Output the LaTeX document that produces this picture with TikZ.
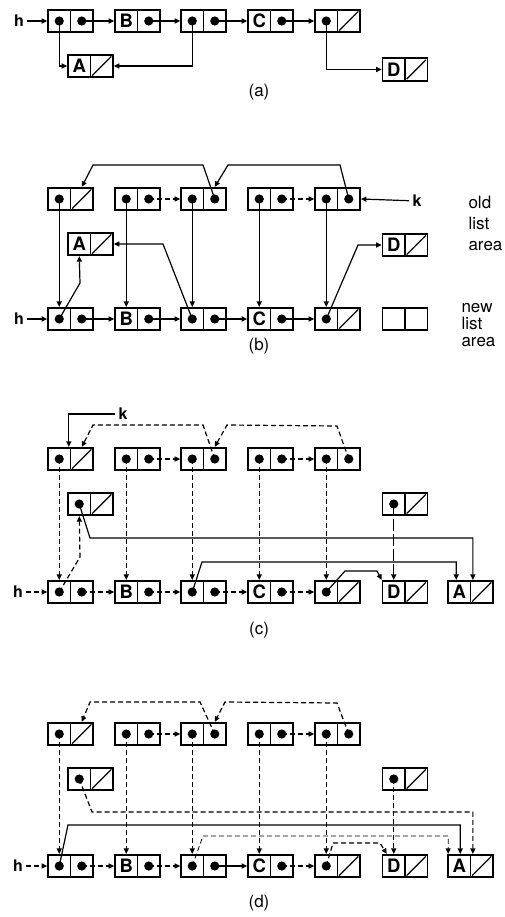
\documentclass[tikz,border=0pt]{standalone}
\usepackage{fontspec}
\setmainfont{TeX Gyre Heros}
\usetikzlibrary{arrows.meta}
\newcommand\mknode[5]{%
  \node[cell] (#1l) at ({#2-11.25},#3) {#4};
  \node[cell] (#1r) at ({#2+11.25},#3) {#5};}
\newcommand\mydot[1]{\fill (#1.center) circle[radius=4.6];}
\newcommand\myslash[1]{\draw[line width=1.3pt] ([shift={(2.5,-2.5)}]#1.south west) -- ([shift={(-2.5,2.5)}]#1.north east);}
\begin{document}
\begin{tikzpicture}[x=1pt,y=-1pt,
  cell/.style={draw,line width=1.7pt,minimum width=22.5pt,minimum height=22.5pt,inner sep=0pt,font=\fontsize{18.5}{18.5}\selectfont\bfseries},
  link/.style={line width=1.2pt},
  arr/.style={link,-{Triangle[length=5.5pt,width=5pt]}},
  dsh/.style={dash pattern=on 5pt off 3pt},
  lbl/.style={font=\fontsize{17}{17}\selectfont},
  ptr/.style={font=\fontsize{16}{16}\selectfont\bfseries},
]
\useasboundingbox (0,0) rectangle (504,917);

% ---------------- (a)
\mknode{a1}{70.5}{21}{}{}
\mknode{a2}{137.5}{21}{B}{}
\mknode{a3}{203.5}{21}{}{}
\mknode{a4}{270.5}{21}{C}{}
\mknode{a5}{337.5}{21}{}{}
\mknode{aA}{90.5}{66}{A}{}
\mknode{aD}{405}{69.5}{D}{}
\node[ptr] (ah) at (19,21) {h};
\mydot{a1l}\mydot{a1r}\mydot{a2r}\mydot{a3l}\mydot{a3r}\mydot{a4r}\mydot{a5l}
\myslash{a5r}\myslash{aAr}\myslash{aDr}
\draw[arr] (ah) -- (a1l.west);
\draw[arr] (a1r.center) -- (a2l.west);
\draw[arr] (a2r.center) -- (a3l.west);
\draw[arr] (a3r.center) -- (a4l.west);
\draw[arr] (a4r.center) -- (a5l.west);
\draw[arr] (a1l.center) |- (aAl.west);
\draw[arr] (a3l.center) |- (aAr.east);
\draw[arr] (a5l.center) |- (aDl.west);
\node[lbl] (la) at (259,92) {(a)};

% ---------------- (b)
\mknode{bo1}{70.5}{199}{}{}
\mknode{bo2}{137.5}{199}{}{}
\mknode{bo3}{203.5}{199}{}{}
\mknode{bo4}{270.5}{199}{}{}
\mknode{bo5}{337.5}{199}{}{}
\mknode{bA}{90.5}{244}{A}{}
\mknode{bD}{405}{245}{D}{}
\mknode{bn1}{70.5}{319}{}{}
\mknode{bn2}{137.5}{319}{B}{}
\mknode{bn3}{203.5}{319}{}{}
\mknode{bn4}{270.5}{319}{C}{}
\mknode{bn5}{337.5}{319}{}{}
\mknode{bE}{405}{319}{}{}
\mydot{bo1l}\mydot{bo2l}\mydot{bo2r}\mydot{bo3l}\mydot{bo3r}\mydot{bo4l}\mydot{bo4r}\mydot{bo5l}\mydot{bo5r}
\mydot{bn1l}\mydot{bn1r}\mydot{bn2r}\mydot{bn3l}\mydot{bn3r}\mydot{bn4r}\mydot{bn5l}
\myslash{bo1r}\myslash{bAr}\myslash{bDr}\myslash{bn5r}
\node[ptr] (bk) at (417,201) {k};
\node[ptr] (bh) at (19,319) {h};
\node[lbl,anchor=base west] (t1) at (465,208) {old};
\node[lbl,anchor=base west] (t2) at (465,229.5) {list};
\node[lbl,anchor=base west] (t3) at (465,251) {area};
\node[lbl,anchor=base west] (t4) at (458,312) {new};
\node[lbl,anchor=base west] (t5) at (458,329) {list};
\node[lbl,anchor=base west] (t6) at (458,346) {area};
\draw[arr] (bh) -- (bn1l.west);
\draw[arr] (bn1r.center) -- (bn2l.west);
\draw[arr] (bn2r.center) -- (bn3l.west);
\draw[arr] (bn3r.center) -- (bn4l.west);
\draw[arr] (bn4r.center) -- (bn5l.west);
\draw[arr,dsh] (bo2r.center) -- (bo3l.west);
\draw[arr,dsh] (bo4r.center) -- (bo5l.west);
\draw[arr] (bk) -- (bo5r.east);
\draw[arr] (bo3r.center) -- (203,165) -- (93,165) -- (bo1r.north);
\draw[arr] (bo5r.center) -- (340,165) -- (228,165) -- (bo3r.north);
\draw[arr] (bo1l.center) -- (bn1l.north);
\draw[arr] (bo2l.center) -- (bn2l.north);
\draw[arr] (bo3l.center) -- (bn3l.north);
\draw[arr] (bo4l.center) -- (bn4l.north);
\draw[arr] (bo5l.center) -- (bn5l.north);
\draw[arr] (bn1l.center) -- (80,283) -- (bAl.south);
\draw[arr] (bn3l.center) -- (163,244) -- (bAr.east);
\draw[arr] (bn5l.center) -- (358,245) -- (bDl.west);
\node[lbl] (lb) at (259,346) {(b)};

% ---------------- (c)
\mknode{co1}{70.5}{459}{}{}
\mknode{co2}{137.5}{459}{}{}
\mknode{co3}{203.5}{459}{}{}
\mknode{co4}{270.5}{459}{}{}
\mknode{co5}{337.5}{459}{}{}
\mknode{cA}{90.5}{504}{}{}
\mknode{cD}{405}{504}{}{}
\mknode{cn1}{70.5}{592}{}{}
\mknode{cn2}{137.5}{592}{B}{}
\mknode{cn3}{203.5}{592}{}{}
\mknode{cn4}{270.5}{592}{C}{}
\mknode{cn5}{337.5}{592}{}{}
\mknode{cND}{405}{592}{D}{}
\mknode{cNA}{470.5}{592}{A}{}
\mydot{co1l}\mydot{co2l}\mydot{co2r}\mydot{co3l}\mydot{co3r}\mydot{co4l}\mydot{co4r}\mydot{co5l}\mydot{co5r}
\mydot{cAl}\mydot{cDl}
\mydot{cn1l}\mydot{cn1r}\mydot{cn2r}\mydot{cn3l}\mydot{cn3r}\mydot{cn4r}\mydot{cn5l}
\myslash{co1r}\myslash{cAr}\myslash{cDr}\myslash{cn5r}\myslash{cNDr}\myslash{cNAr}
\node[ptr] (ck) at (123,414) {k};
\node[ptr] (ch) at (18,592) {h};
\draw[arr] (ck) -| ([xshift=-2.5]co1l.north east);
\draw[arr,dsh] (co3r.center) -- (203,425) -- (93,425) -- (co1r.north);
\draw[arr,dsh] (co5r.center) -- (337,426) -- (227,425) -- (co3r.north);
\draw[arr,dsh] (co2r.center) -- (co3l.west);
\draw[arr,dsh] (co4r.center) -- (co5l.west);
\draw[arr,dsh] (co1l.center) -- (cn1l.north);
\draw[arr,dsh] (co2l.center) -- (cn2l.north);
\draw[arr,dsh] (co3l.center) -- (cn3l.north);
\draw[arr,dsh] (co4l.center) -- (cn4l.north);
\draw[arr,dsh] (co5l.center) -- (cn5l.north);
\draw[arr,dsh] (ch) -- (cn1l.west);
\draw[arr,dsh] (cn1r.center) -- (cn2l.west);
\draw[arr,dsh] (cn2r.center) -- (cn3l.west);
\draw[arr,dsh] (cn3r.center) -- (cn4l.west);
\draw[arr,dsh] (cn4r.center) -- (cn5l.west);
\draw[arr,dsh] (cn1l.center) -- (80,557) -- (cAl.south);
\draw[arr] (cAl.center) -- (90,538) -| ([xshift=1.5]cNAl.north east);
\draw[arr] (cn3l.center) -- (202,562) -| ([xshift=-3]cNAl.north);
\draw[arr,dash pattern=on 12pt off 3pt] (cDl.center) -- (cNDl.north);
\draw[arr] (cn5l.center) -- (345,571) -- (377,571) -- (cNDl.north west);
\node[lbl] (lc) at (259,630) {(c)};

% ---------------- (d)
\mknode{do1}{70.5}{734}{}{}
\mknode{do2}{137.5}{734}{}{}
\mknode{do3}{203.5}{734}{}{}
\mknode{do4}{270.5}{734}{}{}
\mknode{do5}{337.5}{734}{}{}
\mknode{dA}{90.5}{779}{}{}
\mknode{dD}{405}{779}{}{}
\mknode{dn1}{70.5}{866}{}{}
\mknode{dn2}{137.5}{866}{B}{}
\mknode{dn3}{203.5}{866}{}{}
\mknode{dn4}{270.5}{866}{C}{}
\mknode{dn5}{337.5}{866}{}{}
\mknode{dND}{405}{866}{D}{}
\mknode{dNA}{470.5}{866}{A}{}
\mydot{do1l}\mydot{do2l}\mydot{do2r}\mydot{do3l}\mydot{do3r}\mydot{do4l}\mydot{do4r}\mydot{do5l}\mydot{do5r}
\mydot{dAl}\mydot{dDl}
\mydot{dn1l}\mydot{dn1r}\mydot{dn2r}\mydot{dn3l}\mydot{dn3r}\mydot{dn4r}\mydot{dn5l}
\myslash{do1r}\myslash{dAr}\myslash{dDr}\myslash{dn5r}\myslash{dNDr}\myslash{dNAr}
\node[ptr] (dh) at (18,866) {h};
\draw[arr,dsh] (do3r.center) -- (200,702) -- (90,702) -- (do1r.north);
\draw[arr,dsh] (do5r.center) -- (337,703) -- (225,702) -- (do3r.north);
\draw[arr,dsh] (do2r.center) -- (do3l.west);
\draw[arr,dsh] (do4r.center) -- (do5l.west);
\draw[arr,dsh] (do1l.center) -- (dn1l.north);
\draw[arr,dsh] (do2l.center) -- (dn2l.north);
\draw[arr,dsh] (do3l.center) -- (dn3l.north);
\draw[arr,dsh] (do4l.center) -- (dn4l.north);
\draw[arr,dsh] (do5l.center) -- (dn5l.north);
\draw[arr,dsh] (dh) -- (dn1l.west);
\draw[arr,dsh] (dn1r.center) -- (dn2l.west);
\draw[arr,dsh] (dn2r.center) -- (dn3l.west);
\draw[arr] (dn3r.center) -- (dn4l.west);
\draw[arr,dsh] (dn4r.center) -- (dn5l.west);
\draw[arr] (dn1l.center) -- (68,825) -| ([xshift=1]dNAl.north);
\draw[arr,dsh] (dAl.center) -- (92,812) -| ([xshift=1.5]dNAl.north east);
\draw[arr,dsh,line width=0.8pt] (dn3l.center) -- (203,836) -| ([xshift=1]dNAl.north west);
\draw[arr,dsh] (dDl.center) -- (dNDl.north);
\draw[arr,dsh] (dn5l.center) -- (333,843) -- (380,843) -- ([xshift=-7]dNDl.north);
\node[lbl] (ld) at (259,903) {(d)};
\end{tikzpicture}
\end{document}
